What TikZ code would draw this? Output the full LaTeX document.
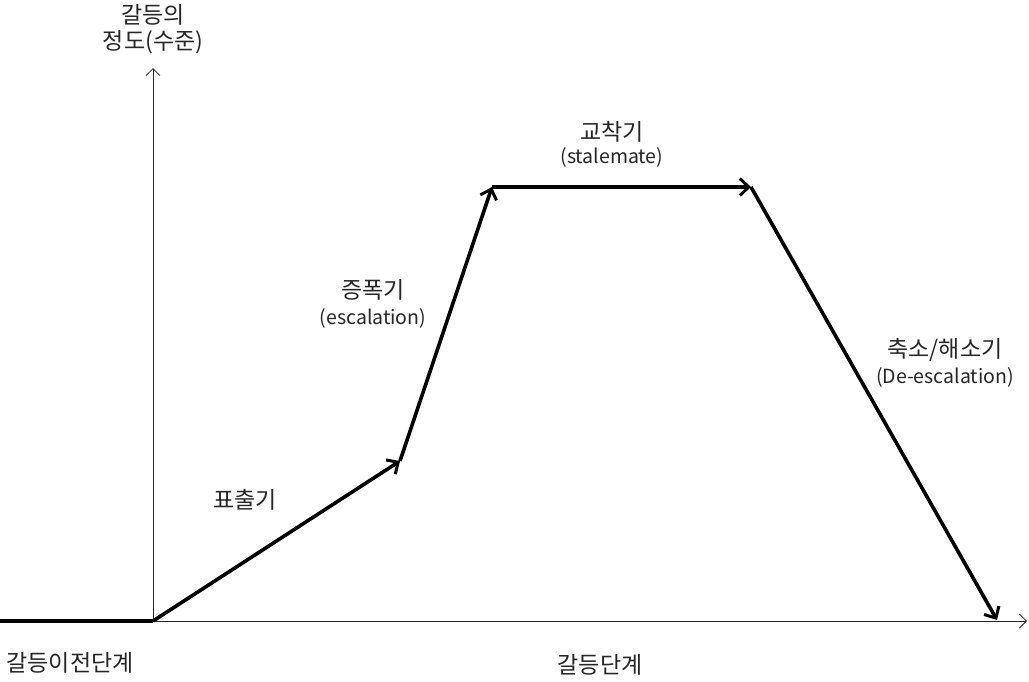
\documentclass[tikz,border=0pt]{standalone}
\usepackage{fontspec}
\setmainfont{Noto Sans CJK KR}
\usetikzlibrary{arrows.meta}
\newcommand{\hg}{\fontsize{23}{27}\selectfont}
\newcommand{\lt}{\fontsize{19.5}{27}\selectfont}
\begin{document}
\begin{tikzpicture}[x=1pt,y=-1pt,
  axis/.style={line width=0.8pt, draw=black!85, -{Straight Barb[length=7pt,width=14pt,line width=0.8pt]}},
  phase/.style={line width=3.6pt, line join=miter, -{Straight Barb[length=9pt,width=17pt,line width=3pt]}},
  lbl/.style={align=center, text=black!85, inner sep=0pt}]
\useasboundingbox (0,0) rectangle (1029,681);
\coordinate (O) at (153,621);
\coordinate (Ytop) at (153,68);
\coordinate (Xend) at (1027,621);
\coordinate (S) at (0,621);
\coordinate (P1) at (400,461);
\coordinate (P2) at (492,187);
\coordinate (P3) at (751,187);
\coordinate (P4) at (997,620);
\draw[axis] (O) -- (Ytop);
\draw[axis] (O) -- (Xend);
\draw[line width=3.6pt] (S) -- (O);
\draw[phase] (O) -- (P1);
\draw[phase] (P1) -- (P2);
\draw[phase] (P2) -- (P3);
\draw[phase] (P3) -- (P4);
\node[lbl] (ylab1) at (153,15) {\hg 갈등의};
\node[lbl] (ylab2) at (153,42) {\hg 정도(수준)};
\node[lbl] (l1) at (245,500) {\hg 표출기};
\node[lbl] (l2a) at (373,290) {\hg 증폭기};
\node[lbl] (l2b) at (373,318) {\lt (escalation)};
\node[lbl] (l3a) at (612,132) {\hg 교착기};
\node[lbl] (l3b) at (612,157) {\lt (stalemate)};
\node[lbl] (l4a) at (945,350) {\hg 축소/해소기};
\node[lbl] (l4b) at (945,377) {\lt (De-escalation)};
\node[lbl] (x1) at (70,663) {\hg 갈등이전단계};
\node[lbl] (x2) at (600,665) {\hg 갈등단계};
\end{tikzpicture}
\end{document}
